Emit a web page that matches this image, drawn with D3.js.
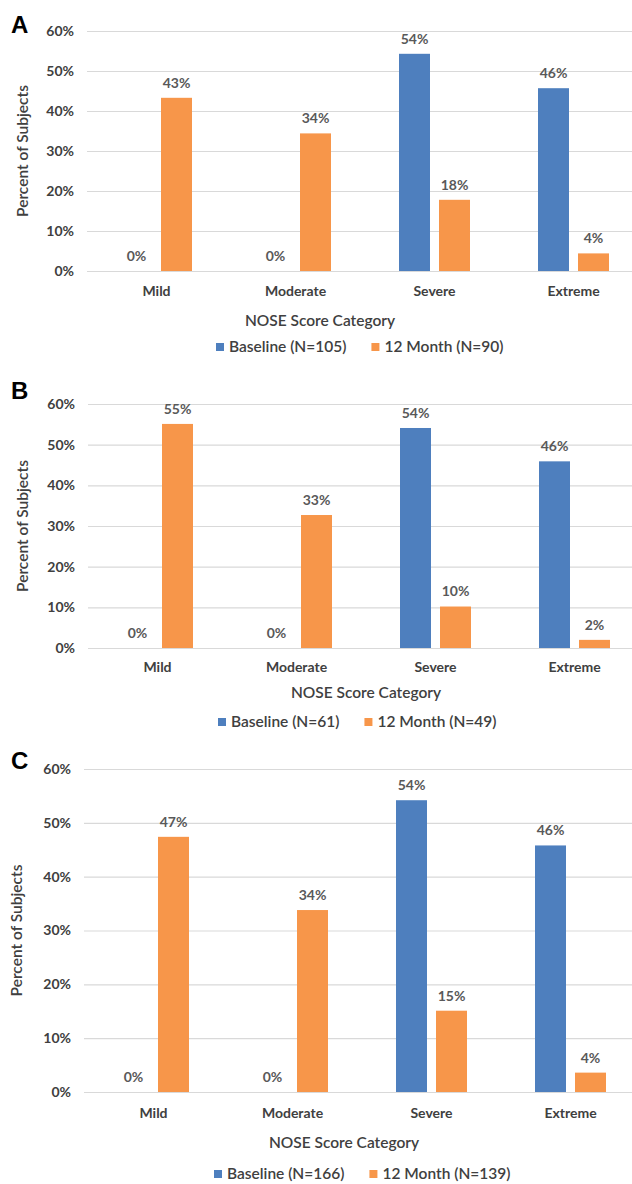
<!DOCTYPE html>
<html>
<head>
<meta charset="utf-8">
<script src="https://cdnjs.cloudflare.com/ajax/libs/d3/7.8.5/d3.min.js"></script>
<style>
  html, body { margin:0; padding:0; background:#fff; }
  svg text { font-family: Lato, "Open Sans", sans-serif; }
  .yaxis .domain, .xaxis .domain { display:none; }
  .yaxis line { stroke:#d9d9d9; stroke-width:1.2; }
  .yaxis text { font-size:14px; font-weight:bold; fill:#404040; }
  .xaxis line { display:none; }
  .xaxis text { font-size:14px; font-weight:bold; fill:#404040; }
  .val { font-size:14px; font-weight:bold; fill:#595959; }
  .title { font-size:15.5px; font-weight:600; fill:#404040; }
  .legend { font-size:15.5px; font-weight:600; fill:#404040; }
  .letter { font-family:"Liberation Sans", Arial, sans-serif !important; font-size:24px; font-weight:bold; fill:#000; }
</style>
</head>
<body>
<svg id="chart" width="632" height="1184"></svg>
<script>
// data
var categories = ["Mild", "Moderate", "Severe", "Extreme"];
var series = ["Baseline", "12 Month"];
var yTicks = [0, 10, 20, 30, 40, 50, 60];

var baselineA = [0, 0, 54.3, 45.7];
var monthA    = [43.3, 34.4, 17.8, 4.4];
var legendA   = ["Baseline (N=105)", "12 Month (N=90)"];

var baselineB = [0, 0, 54.1, 45.9];
var monthB    = [55.1, 32.7, 10.2, 2.0];
var legendB   = ["Baseline (N=61)", "12 Month (N=49)"];

var baselineC = [0, 0, 54.2, 45.8];
var monthC    = [47.4, 33.8, 15.1, 3.6];
var legendC   = ["Baseline (N=166)", "12 Month (N=139)"];

var colors = ["#4e7fbe", "#f7964a"];

// layout for each panel
var panels = [
  {letter:"A", base:baselineA, month:monthA, legend:legendA,
   letterY:24, top:31, bottom:271, left:87, catY:291, titleX:320, titleY:321, legendX:216, legendY:347, yTitleX:23},
  {letter:"B", base:baselineB, month:monthB, legend:legendB,
   letterY:390, top:404, bottom:648, left:88, catY:667, titleX:366, titleY:693, legendX:218, legendY:722, yTitleX:23},
  {letter:"C", base:baselineC, month:monthC, legend:legendC,
   letterY:760, top:769, bottom:1092, left:84, catY:1113, titleX:344, titleY:1143, legendX:214, legendY:1174, yTitleX:17}
];

var svg = d3.select("#chart");
var W = 632, step = 139;

panels.forEach(function(p) {
  var x0 = d3.scaleBand().domain(categories).range([p.left, p.left + step * categories.length]);
  var x1 = d3.scaleBand().domain(series).range([0, x0.bandwidth()]).paddingInner(0.225).paddingOuter(0.85);
  var y = d3.scaleLinear().domain([0, 60]).range([p.bottom, p.top]);

  svg.append("text").attr("class", "letter")
    .attr("x", 11).attr("y", p.letterY).attr("dy", "0.36em").text(p.letter);

  svg.append("g").attr("class", "yaxis")
    .attr("transform", "translate(" + p.left + ",0)")
    .call(d3.axisLeft(y).tickValues(yTicks).tickSize(-(W - p.left)).tickPadding(13)
      .tickFormat(function(d) { return d + "%"; }));

  var xa = svg.append("g").attr("class", "xaxis")
    .attr("transform", "translate(0," + p.bottom + ")")
    .call(d3.axisBottom(x0).tickSize(0));
  xa.selectAll("text").attr("y", p.catY - p.bottom).attr("dy", "0.35em");

  var rows = categories.map(function(c, i) {
    return [{cat:c, s:series[0], v:p.base[i]}, {cat:c, s:series[1], v:p.month[i]}];
  });

  var g = svg.append("g").selectAll("g").data(rows).enter().append("g")
    .attr("transform", function(d) { return "translate(" + x0(d[0].cat) + ",0)"; });

  g.selectAll("rect").data(function(d) { return d; }).enter().append("rect")
    .attr("x", function(d) { return x1(d.s); })
    .attr("y", function(d) { return y(d.v); })
    .attr("width", x1.bandwidth())
    .attr("height", function(d) { return y(0) - y(d.v); })
    .attr("fill", function(d, i) { return colors[i]; });

  g.selectAll("text").data(function(d) { return d; }).enter().append("text")
    .attr("class", "val")
    .attr("x", function(d) { return x1(d.s) + x1.bandwidth() / 2; })
    .attr("y", function(d) { return y(d.v) - 15; })
    .attr("dy", "0.35em")
    .attr("text-anchor", "middle")
    .text(function(d) { return Math.round(d.v) + "%"; });

  svg.append("text").attr("class", "title")
    .attr("transform", "translate(" + p.yTitleX + "," + ((p.top + p.bottom) / 2) + ") rotate(-90)")
    .attr("text-anchor", "middle").attr("dy", "0.35em")
    .text("Percent of Subjects");

  svg.append("text").attr("class", "title")
    .attr("x", p.titleX).attr("y", p.titleY).attr("dy", "0.35em")
    .attr("text-anchor", "middle")
    .text("NOSE Score Category");

  var lx = p.legendX;
  p.legend.forEach(function(label, i) {
    svg.append("rect").attr("x", lx).attr("y", p.legendY - 4).attr("width", 8).attr("height", 8)
      .attr("fill", colors[i]);
    var t = svg.append("text").attr("class", "legend")
      .attr("x", lx + 13).attr("y", p.legendY).attr("dy", "0.35em").text(label);
    lx = lx + 13 + t.node().getComputedTextLength() + 25;
  });
});
</script>
</body>
</html>
